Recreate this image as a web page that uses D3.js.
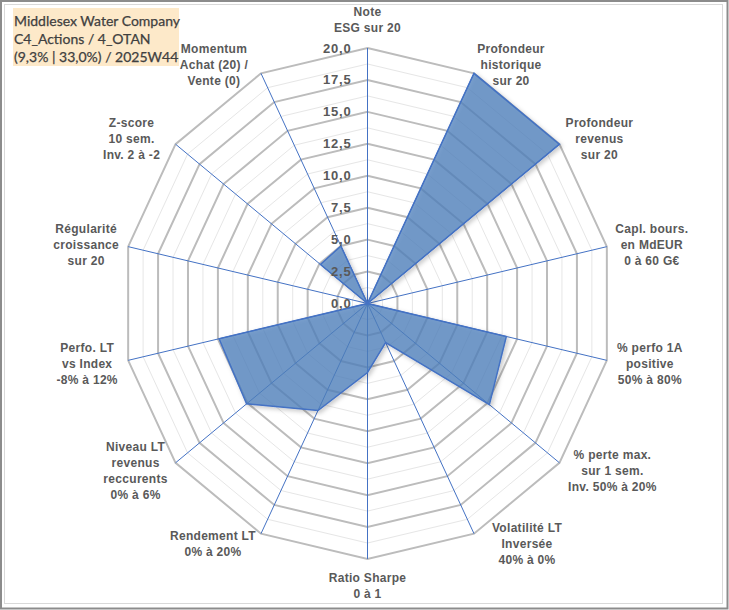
<!DOCTYPE html>
<html>
<head>
<meta charset="utf-8">
<script src="https://cdn.jsdelivr.net/npm/d3@7"></script>
<style>
  body { margin: 0; background: #fff; }
  svg { display: block; }
</style>
</head>
<body>
<svg id="radar"></svg>
<script>
const width = 729;
const height = 610;

// axes clockwise from the top
const axisLabels = [
  ["Note", "ESG sur 20"],
  ["Profondeur", "historique", "sur 20"],
  ["Profondeur", "revenus", "sur 20"],
  ["Capl. bours.", "en MdEUR", "0 à 60 G€"],
  ["% perfo 1A", "positive", "50% à 80%"],
  ["% perte max.", "sur 1 sem.", "Inv. 50% à 20%"],
  ["Volatilité LT", "Inversée", "40% à 0%"],
  ["Ratio Sharpe", "0 à 1"],
  ["Rendement LT", "0% à 20%"],
  ["Niveau LT", "revenus", "reccurents", "0% à 6%"],
  ["Perfo. LT", "vs Index", "-8% à 12%"],
  ["Régularité", "croissance", "sur 20"],
  ["Z-score", "10 sem.", "Inv. 2 à -2"],
  ["Momentum", "Achat (20) /", "Vente (0)"]
];
const scores = [0, 20, 20, 0, 11.6, 12.7, 3.4, 5.4, 9.3, 12.6, 12.4, 0, 4.9, 5.0];
const majorTicks = [0, 2.5, 5, 7.5, 10, 12.5, 15, 17.5, 20];
const minorTicks = [1.25, 3.75, 6.25, 8.75, 11.25, 13.75, 16.25, 18.75];
const titleLines = ["Middlesex Water Company", "C4_Actions / 4_OTAN", "(9,3% | 33,0%) / 2025W44"];

// layout: where each label block sits relative to its outer vertex
const labelNudge = [
  [0, -28], [37, -9], [40, -5], [45, -2], [43, 3], [53, 8], [53, 10],
  [0, 27], [-48, 10], [-40, 8], [-41, 3], [-42, -2], [-44, -5], [-47, -9]
];

const cx = 367.5, cy = 303.5;
const n = axisLabels.length;

const scaleAngle = d3.scaleLinear().domain([0, n]).range([0, 2 * Math.PI]);
const scaleRx = d3.scaleLinear().domain([0, 20]).range([0, 245.5]);
const scaleRy = d3.scaleLinear().domain([0, 20]).range([0, 255.5]);

const px = (v, i) => cx + scaleRx(v) * Math.sin(scaleAngle(i));
const py = (v, i) => cy - scaleRy(v) * Math.cos(scaleAngle(i));
const ring = v => d3.range(n).map(i => [px(v, i), py(v, i)]);
const fmt = v => d3.format(".1f")(v).replace(".", ",");

const svg = d3.select("#radar")
  .attr("width", width)
  .attr("height", height);

const defs = svg.append("defs");
const shadow = defs.append("filter").attr("id", "shadow")
  .attr("x", "-10%").attr("y", "-10%").attr("width", "130%").attr("height", "130%");
shadow.append("feDropShadow")
  .attr("dx", 2).attr("dy", 2).attr("stdDeviation", 2)
  .attr("flood-color", "#000").attr("flood-opacity", 0.25);

// frames
svg.append("rect")
  .attr("x", 1).attr("y", 1).attr("width", 726.5).attr("height", 607.5)
  .attr("fill", "#fff").attr("stroke", "#8c8c8c").attr("stroke-width", 2);
svg.append("rect")
  .attr("x", 4.5).attr("y", 4.5).attr("width", 718).attr("height", 599)
  .attr("fill", "none").attr("stroke", "#d9d9d9").attr("stroke-width", 1);

const line = d3.line();

// grid
svg.append("g").selectAll("path")
  .data(minorTicks)
  .join("path")
    .attr("d", d => line(ring(d)) + "Z")
    .attr("fill", "none")
    .attr("stroke", "#e6e6e6")
    .attr("stroke-width", 1);

svg.append("g").selectAll("path")
  .data(majorTicks.filter(d => d > 0))
  .join("path")
    .attr("d", d => line(ring(d)) + "Z")
    .attr("fill", "none")
    .attr("stroke", "#bcbcbc")
    .attr("stroke-width", 2);

// spokes
svg.append("g").selectAll("line")
  .data(d3.range(n))
  .join("line")
    .attr("x1", cx).attr("y1", cy)
    .attr("x2", i => px(20, i))
    .attr("y2", i => py(20, i))
    .attr("stroke", "#4472c4")
    .attr("stroke-width", 1);

// series
svg.append("path")
  .datum(scores)
  .attr("d", d => line(d.map((v, i) => [px(v, i), py(v, i)])) + "Z")
  .attr("fill", "#4f81bd")
  .attr("fill-opacity", 0.75)
  .attr("stroke", "#4472c4")
  .attr("stroke-width", 1.5)
  .attr("stroke-linejoin", "miter")
  .attr("filter", "url(#shadow)");

// radial tick labels
svg.append("g").selectAll("text")
  .data(majorTicks)
  .join("text")
    .attr("x", cx - 16)
    .attr("y", d => cy - scaleRy(d))
    .attr("dy", "0.35em")
    .attr("text-anchor", "end")
    .attr("font-family", "Liberation Sans, Arial, sans-serif")
    .attr("font-weight", "bold")
    .attr("font-size", 13)
    .attr("letter-spacing", 0.8)
    .attr("fill", "#595959")
    .text(fmt);

// axis labels
const lineH = 16;
const labels = svg.append("g").selectAll("text")
  .data(axisLabels)
  .join("text")
    .attr("text-anchor", "middle")
    .attr("font-family", "Liberation Sans, Arial, sans-serif")
    .attr("font-weight", "bold")
    .attr("font-size", 12)
    .attr("letter-spacing", 0.3)
    .attr("fill", "#595959");

labels.each(function (lines, i) {
  const bx = px(20, i) + labelNudge[i][0];
  const by = py(20, i) + labelNudge[i][1] - (lines.length - 1) * lineH / 2;
  d3.select(this).selectAll("tspan")
    .data(lines)
    .join("tspan")
      .attr("x", bx)
      .attr("y", (d, k) => by + k * lineH)
      .attr("dy", "0.35em")
      .text(d => d);
});

// title box
svg.append("rect")
  .attr("x", 13).attr("y", 8).attr("width", 166).attr("height", 58)
  .attr("fill", "#fde9c9");
svg.append("g").selectAll("text")
  .data(titleLines)
  .join("text")
    .attr("x", 14)
    .attr("y", (d, k) => 21 + k * 18)
    .attr("dy", "0.35em")
    .attr("font-family", "Lato, Carlito, sans-serif")
    .attr("font-size", 14)
    .attr("fill", "#404040")
    .attr("stroke", "#404040")
    .attr("stroke-width", 0.25)
    .text(d => d);
</script>
</body>
</html>
